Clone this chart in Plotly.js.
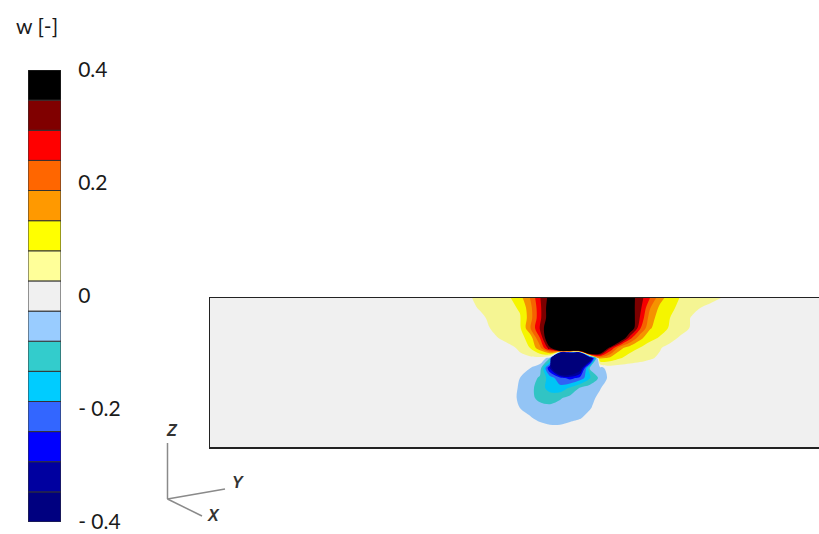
<!DOCTYPE html>
<html>
<head>
<meta charset="utf-8">
<script src="https://cdn.plot.ly/plotly-3.0.1.min.js"></script>
<style>
  html, body { margin: 0; padding: 0; background: #ffffff; overflow: hidden; }
  #chart { width: 819px; height: 534px; }
</style>
</head>
<body>
<div id="chart"></div>
<script>
// Band edges of w [-] shared by the colour bar and the filled contours
const levelEdges = [-0.4, -0.3467, -0.2933, -0.24, -0.1867, -0.1333, -0.08, -0.0267,
                    0.0267, 0.08, 0.1333, 0.1867, 0.24, 0.2933, 0.3467, 0.4];
const bandColors = ['#000080', '#0000a0', '#0000ff', '#3366ff', '#00ccff', '#33cccc', '#99ccff',
                    '#f0f0f0', '#ffff99', '#ffff00', '#ff9900', '#ff6600', '#ff0000', '#800000', '#000000'];
const tickValues = [0.4, 0.2, 0, -0.2, -0.4];
const tickLabels = ['0.4', '0.2', '0', '- 0.2', '- 0.4'];

// Section through the domain: horizontal position (Y) and height (Z) of the sampled nodes
const yNodes = [24, 25, 26, 27, 28, 29, 30, 31, 32, 33, 34, 35, 36, 37, 38, 39,
                40, 41, 42, 43, 44, 45, 46, 47, 48, 49, 50, 51, 52, 53];
const zNodes = [0, -1, -2, -3, -4, -5, -6, -7, -8, -9, -10, -11, -12, -13];

// Vertical velocity w on the section, one row per height
const wField = [
  [0, 0.005, 0.024, 0.037, 0.05, 0.064, 0.077, 0.113, 0.187, 0.29, 0.37, 1, 1, 1, 1, 1, 1, 1, 0.373, 0.32, 0.24, 0.153, 0.108, 0.078, 0.066, 0.053, 0.041, 0.028, 0.015, 0],
  [0, 0, 0.018, 0.03, 0.044, 0.058, 0.07, 0.085, 0.165, 0.28, 0.39, 1, 1, 1, 1, 1, 1, 1, 0.38, 0.31, 0.19, 0.12, 0.088, 0.072, 0.045, 0.027, 0.015, 0.005, 0, 0],
  [0, 0, 0.005, 0.018, 0.033, 0.048, 0.062, 0.076, 0.16, 0.28, 0.39, 1, 1, 1, 1, 1, 1, 1, 0.4, 0.29, 0.16, 0.105, 0.08, 0.053, 0.027, 0.012, 0, 0, 0, 0],
  [0, 0, 0, 0.008, 0.027, 0.042, 0.057, 0.072, 0.18, 0.3, 0.42, 1, 1, 1, 1, 1, 1, 1, 0.42, 0.25, 0.14, 0.1, 0.075, 0.05, 0.025, 0.01, 0, 0, 0, 0],
  [0, 0, 0, 0, 0.01, 0.03, 0.047, 0.062, 0.1, 0.24, 0.45, 1, 1, 1, 1, 1, 1, 0.45, 0.26, 0.15, 0.095, 0.075, 0.045, 0.02, 0, 0, 0, 0, 0, 0],
  [0, 0, 0, 0, 0, 0, 0.015, 0.035, 0.08, 0.17, 0.33, 1.5, 1.5, 1.5, 1.5, 0.6, 0.3, 0.15, 0.1, 0.078, 0.055, 0.03, 0.01, 0, 0, 0, 0, 0, 0, 0],
  [0, 0, 0, 0, 0, 0, 0.005, 0.015, 0.015, 0.01, -0.05, -2.5, -2.5, -2.5, -0.45, 0.15, 0.12, 0.085, 0.06, 0.045, 0.032, 0.02, 0, 0, 0, 0, 0, 0, 0, 0],
  [0, 0, 0, 0, 0, 0, 0, 0, -0.026, -0.05, -0.3, -0.6, -0.55, -0.4, -0.07, -0.045, 0, 0, 0, 0, 0, 0, 0, 0, 0, 0, 0, 0, 0, 0],
  [0, 0, 0, 0, 0, 0, 0, -0.027, -0.05, -0.09, -0.16, -0.22, -0.26, -0.22, -0.14, -0.065, -0.01, 0, 0, 0, 0, 0, 0, 0, 0, 0, 0, 0, 0, 0],
  [0, 0, 0, 0, 0, 0, 0, -0.035, -0.06, -0.11, -0.155, -0.17, -0.125, -0.075, -0.05, -0.03, 0, 0, 0, 0, 0, 0, 0, 0, 0, 0, 0, 0, 0, 0],
  [0, 0, 0, 0, 0, 0, 0, -0.04, -0.065, -0.095, -0.105, -0.085, -0.065, -0.05, -0.04, -0.015, 0, 0, 0, 0, 0, 0, 0, 0, 0, 0, 0, 0, 0, 0],
  [0, 0, 0, 0, 0, 0, 0, -0.027, -0.05, -0.06, -0.065, -0.06, -0.055, -0.045, -0.03, -0.005, 0, 0, 0, 0, 0, 0, 0, 0, 0, 0, 0, 0, 0, 0],
  [0, 0, 0, 0, 0, 0, 0, 0, -0.02, -0.045, -0.05, -0.05, -0.045, -0.03, -0.01, 0, 0, 0, 0, 0, 0, 0, 0, 0, 0, 0, 0, 0, 0, 0],
  [0, 0, 0, 0, 0, 0, 0, 0, 0, 0, -0.015, -0.015, 0, 0, 0, 0, 0, 0, 0, 0, 0, 0, 0, 0, 0, 0, 0, 0, 0, 0]
];

const W = 819, H = 534;
const px = v => v / W;
const py = v => 1 - v / H;

// slightly shaded version of the band colours for the lit section surface
function shade(hex, f) {
  const n = parseInt(hex.slice(1), 16);
  const r = Math.round(((n >> 16) & 255) * f);
  const g = Math.round(((n >> 8) & 255) * f);
  const b = Math.round((n & 255) * f);
  return 'rgb(' + r + ',' + g + ',' + b + ')';
}

const nBands = bandColors.length;
const bandSize = (levelEdges[nBands] - levelEdges[0]) / nBands;
const fieldScale = bandColors.map((c, i) => [i / (nBands - 1), i === 7 ? c : shade(c, 0.96)]);

const field = {
  type: 'contour',
  x: yNodes,
  y: zNodes,
  z: wField,
  xaxis: 'x', yaxis: 'y',
  autocontour: false,
  contours: {
    start: levelEdges[0] + bandSize,
    end: levelEdges[nBands] - bandSize,
    size: bandSize,
    coloring: 'fill',
    showlines: false
  },
  line: { width: 0, smoothing: 0.9 },
  colorscale: fieldScale,
  showscale: false,
  hoverinfo: 'skip'
};

// Colour bar drawn as stacked bands
const bandBars = {
  type: 'bar',
  x: bandColors.map(() => 'w'),
  y: bandColors.map((c, i) => levelEdges[i + 1] - levelEdges[i]),
  base: levelEdges.slice(0, nBands),
  width: 1,
  marker: { color: bandColors, line: { color: '#333333', width: 1 } },
  xaxis: 'x2', yaxis: 'y2',
  hoverinfo: 'skip',
  showlegend: false
};

const triadColor = '#8a8a8a';
const origin = [167.5, 499];
const shapes = [
  { type: 'line', xref: 'paper', yref: 'paper', x0: px(origin[0]), y0: py(origin[1]), x1: px(167.5), y1: py(443), line: { color: triadColor, width: 1.5 } },
  { type: 'line', xref: 'paper', yref: 'paper', x0: px(origin[0]), y0: py(origin[1]), x1: px(225), y1: py(489), line: { color: triadColor, width: 1.5 } },
  { type: 'line', xref: 'paper', yref: 'paper', x0: px(origin[0]), y0: py(origin[1]), x1: px(202), y1: py(516), line: { color: triadColor, width: 1.5 } }
];

const labelFont = { family: 'Lato, "Open Sans", sans-serif', size: 21, color: '#1a1a1a' };
const triadFont = { family: '"Liberation Sans", Arial, sans-serif', size: 16, color: '#333333' };
const annotations = [
  { text: 'w [-]', xref: 'paper', yref: 'paper', x: px(14), y: py(25), xanchor: 'left', yanchor: 'middle', showarrow: false, font: labelFont },
  { text: '<b><i>Z</i></b>', xref: 'paper', yref: 'paper', x: px(172), y: py(430), xanchor: 'center', yanchor: 'middle', showarrow: false, font: triadFont },
  { text: '<b><i>Y</i></b>', xref: 'paper', yref: 'paper', x: px(238), y: py(482), xanchor: 'center', yanchor: 'middle', showarrow: false, font: triadFont },
  { text: '<b><i>X</i></b>', xref: 'paper', yref: 'paper', x: px(213), y: py(515), xanchor: 'center', yanchor: 'middle', showarrow: false, font: triadFont }
];

const layout = {
  width: W, height: H, autosize: false,
  margin: { l: 0, r: 0, t: 0, b: 0, pad: 0 },
  paper_bgcolor: '#ffffff',
  plot_bgcolor: '#f0f0f0',
  showlegend: false,
  barmode: 'overlay',
  font: labelFont,
  xaxis: {
    domain: [px(210), 1], range: [0, 60.9],
    showticklabels: false, ticks: '', showgrid: false, zeroline: false,
    showline: true, mirror: true, linecolor: '#222222', linewidth: 1.5, fixedrange: true
  },
  yaxis: {
    domain: [1 - 447 / H, 1 - 298 / H], range: [-14.9, 0],
    showticklabels: false, ticks: '', showgrid: false, zeroline: false,
    showline: true, mirror: false, linecolor: '#222222', linewidth: 1.5, fixedrange: true
  },
  xaxis2: {
    domain: [px(28), px(61)], anchor: 'y2', range: [-0.5, 0.5],
    visible: false, fixedrange: true
  },
  yaxis2: {
    domain: [1 - 522 / H, 1 - 70 / H], anchor: 'x2', range: [-0.4, 0.4],
    side: 'right', tickvals: tickValues, ticktext: tickLabels,
    ticks: 'outside', ticklen: 12, tickcolor: 'rgba(0,0,0,0)',
    ticklabeloverflow: 'allow',
    showgrid: false, zeroline: false, showline: false,
    tickfont: { family: 'Lato, "Open Sans", sans-serif', size: 21, color: '#1a1a1a' },
    fixedrange: true
  },
  shapes: shapes,
  annotations: annotations
};

Plotly.newPlot('chart', [field, bandBars], layout, { staticPlot: true, displayModeBar: false });
</script>
</body>
</html>
